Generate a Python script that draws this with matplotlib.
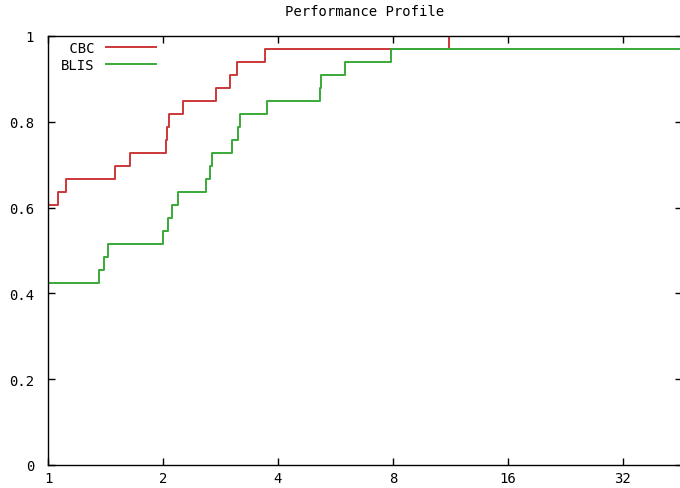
import matplotlib
matplotlib.use("Agg")
import matplotlib.pyplot as plt

# performance profile data (ratio tau where the step occurs, fraction of problems)
cbc_tau = [1.0, 1.064, 1.115, 1.498, 1.640, 2.036, 2.053, 2.070, 2.26, 2.753, 2.99, 3.12, 3.71, 11.2]
cbc_rho = [0.606, 0.636, 0.667, 0.697, 0.727, 0.758, 0.788, 0.818, 0.848, 0.879, 0.909, 0.939, 0.970, 1.0]

blis_tau = [1.0, 1.360, 1.404, 1.436, 1.996, 2.067, 2.108, 2.183, 2.587, 2.660, 2.682,
            3.037, 3.149, 3.182, 3.737, 5.152, 5.184, 5.99, 7.90]
blis_rho = [0.424, 0.455, 0.485, 0.515, 0.545, 0.576, 0.606, 0.636, 0.667, 0.697, 0.727,
            0.758, 0.788, 0.818, 0.848, 0.879, 0.909, 0.939, 0.970]

x_ticks = [1, 2, 4, 8, 16, 32]
y_ticks = [0, 0.2, 0.4, 0.6, 0.8, 1]
y_labels = ["0", "0.2", "0.4", "0.6", "0.8", "1"]

x_max = 45.7
font = "DejaVu Sans Mono"
fs = 10

fig = plt.figure(figsize=(6.8, 4.89), dpi=100)
ax = fig.add_axes([48/680, 23/489, 634/680, 429/489])

ax.step(cbc_tau + [x_max], cbc_rho + [cbc_rho[-1]], where="post",
        color="#cc3838", lw=1.4, label=" CBC")
ax.step(blis_tau + [x_max], blis_rho + [blis_rho[-1]], where="post",
        color="#38aa38", lw=1.4, label="BLIS")

ax.set_xscale("log", base=2)
ax.set_xlim(1, x_max)
ax.set_ylim(0, 1)
ax.set_xticks(x_ticks)
ax.set_xticklabels([str(t) for t in x_ticks], family=font, fontsize=fs)
ax.set_yticks(y_ticks)
ax.set_yticklabels(y_labels, family=font, fontsize=fs)
ax.minorticks_off()
ax.tick_params(direction="in", length=5, width=1, top=True, right=True,
               color="black")
ax.tick_params(axis="x", pad=4)
ax.tick_params(axis="y", pad=10)
for s in ax.spines.values():
    s.set_linewidth(1)

ax.set_title("Performance Profile", family=font, fontsize=fs, pad=15)

leg = ax.legend(loc="upper left", bbox_to_anchor=(0.021, 0.988), frameon=False,
                markerfirst=False, handlelength=3.6, handletextpad=0.8,
                labelspacing=0.2, borderpad=0, borderaxespad=0,
                prop={"family": font, "size": fs})

fig.savefig("out.png", dpi=100)
